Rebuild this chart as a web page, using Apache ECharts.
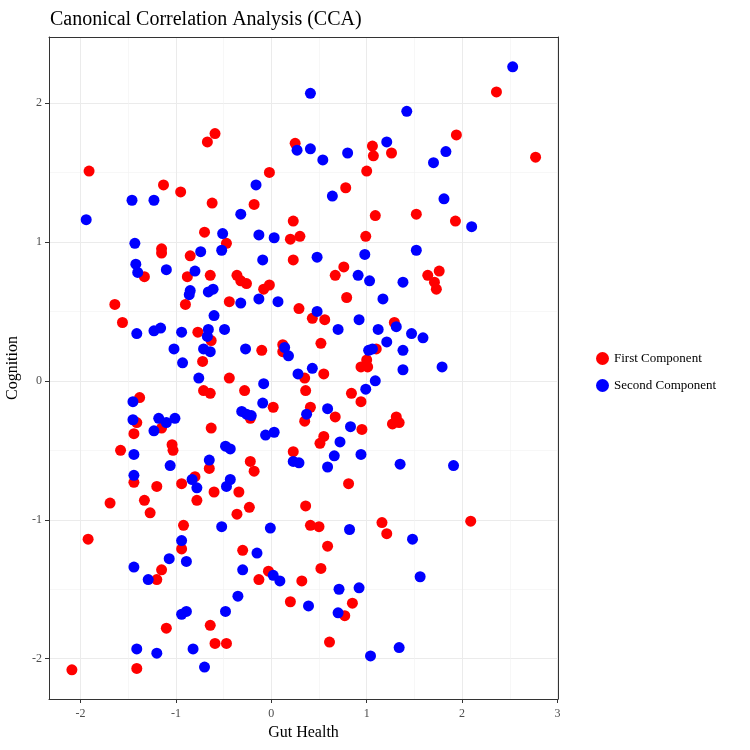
<!DOCTYPE html>
<html>
<head>
<meta charset="utf-8">
<title>CCA</title>
<script src="https://cdn.jsdelivr.net/npm/echarts@6/dist/echarts.min.js"></script>
<style>
  html, body { margin: 0; padding: 0; background: #fff; }
  #cca { width: 750px; height: 750px; }
</style>
</head>
<body>
<div id="cca"></div>
<script>
// values: [gut health, cognition]
var firstComponent = [
	[-0.59, 1.78], [-0.67, 1.72], [0.25, 1.71], [-1.91, 1.51], [-0.02, 1.50], [-1.13, 1.41],
	[-0.95, 1.36], [-0.62, 1.28], [-0.18, 1.27], [0.23, 1.15], [-0.70, 1.07], [0.20, 1.02],
	[0.30, 1.04], [-0.47, 0.99], [-1.15, 0.95], [-1.15, 0.92], [-0.85, 0.90], [0.23, 0.87],
	[2.36, 2.08], [1.94, 1.77], [1.06, 1.69], [1.07, 1.62], [1.26, 1.64], [2.77, 1.61],
	[1.00, 1.51], [0.78, 1.39], [1.09, 1.19], [1.52, 1.20], [1.93, 1.15], [0.99, 1.04],
	[-1.33, 0.75], [-0.88, 0.75], [-0.64, 0.76], [-0.36, 0.76], [-0.32, 0.72], [-0.26, 0.70],
	[-0.08, 0.66], [-0.02, 0.69], [-1.64, 0.55], [-0.90, 0.55], [-0.44, 0.57], [0.29, 0.52],
	[-1.56, 0.42], [-0.77, 0.35], [-0.63, 0.29], [-0.72, 0.14], [-0.10, 0.22], [0.12, 0.26],
	[0.12, 0.21], [-0.44, 0.02], [-0.71, -0.07], [-0.64, -0.09], [-0.28, -0.07], [-1.38, -0.12],
	[0.02, -0.19], [-0.22, -0.27], [-1.41, -0.30], [-1.15, -0.34], [-1.44, -0.38], [-0.63, -0.34],
	[-1.58, -0.50], [-1.04, -0.46], [-1.03, -0.50], [-0.65, -0.63], [-0.22, -0.58], [-0.18, -0.65],
	[0.23, -0.51],
	[0.76, 0.82], [0.67, 0.76], [1.64, 0.76], [1.76, 0.79], [1.71, 0.71], [1.73, 0.66],
	[0.79, 0.60], [0.43, 0.45], [0.56, 0.44], [1.29, 0.42], [0.52, 0.27], [1.10, 0.23],
	[1.00, 0.15], [0.94, 0.10], [1.01, 0.10], [0.35, 0.02], [0.55, 0.05], [0.36, -0.07],
	[0.84, -0.09], [0.94, -0.15], [0.41, -0.19], [0.35, -0.29], [0.67, -0.26], [0.95, -0.35],
	[1.31, -0.26], [1.27, -0.31], [1.34, -0.30], [0.55, -0.40], [0.51, -0.45],
	[-1.44, -0.73], [-1.20, -0.76], [-0.94, -0.74], [-0.80, -0.69], [-0.60, -0.80], [-0.34, -0.80],
	[-1.69, -0.88], [-1.33, -0.86], [-0.78, -0.86], [-1.27, -0.95], [-0.36, -0.96], [-0.23, -0.91],
	[0.36, -0.90], [-0.92, -1.04], [-1.92, -1.14], [-0.94, -1.21], [-0.30, -1.22], [-1.15, -1.36],
	[-1.20, -1.43], [-0.03, -1.37], [-0.13, -1.43], [0.32, -1.44], [0.20, -1.59], [-1.10, -1.78],
	[-0.64, -1.76], [-0.59, -1.89], [-0.47, -1.89], [-2.09, -2.08], [-1.41, -2.07],
	[0.81, -0.74], [0.41, -1.04], [0.50, -1.05], [1.16, -1.02], [1.21, -1.10], [2.09, -1.01],
	[0.59, -1.19], [0.52, -1.35], [0.85, -1.60], [0.77, -1.69], [0.61, -1.88]
];

var secondComponent = [
	[0.41, 2.07], [2.53, 2.26], [1.42, 1.94], [0.27, 1.66], [0.41, 1.67], [0.54, 1.59],
	[0.80, 1.64], [1.21, 1.72], [1.70, 1.57], [1.83, 1.65], [-0.16, 1.41], [-1.46, 1.30],
	[-1.23, 1.30], [-0.32, 1.20], [-1.94, 1.16], [-0.51, 1.06], [-0.13, 1.05], [0.03, 1.03],
	[-1.43, 0.99], [-0.74, 0.93], [-0.52, 0.94], [-0.09, 0.87], [0.64, 1.33], [1.81, 1.31],
	[2.10, 1.11], [0.48, 0.89], [0.98, 0.91], [1.52, 0.94],
	[-1.42, 0.84], [-1.40, 0.78], [-1.10, 0.80], [-0.80, 0.79], [-0.85, 0.65], [-0.86, 0.62],
	[-0.66, 0.64], [-0.61, 0.66], [-0.32, 0.56], [-0.13, 0.59], [0.07, 0.57], [-0.60, 0.47],
	[-1.41, 0.34], [-1.23, 0.36], [-1.16, 0.38], [-0.94, 0.35], [-0.66, 0.37], [-0.67, 0.32],
	[-0.49, 0.37], [-1.02, 0.23], [-0.71, 0.23], [-0.64, 0.21], [-0.93, 0.13], [-0.27, 0.23],
	[0.14, 0.24], [0.18, 0.18], [-0.76, 0.02], [0.28, 0.05], [-0.08, -0.02], [-1.45, -0.15],
	[-0.09, -0.16], [-0.31, -0.22], [-0.26, -0.24], [-0.21, -0.25], [-1.45, -0.28], [-1.18, -0.27],
	[-1.10, -0.30], [-1.01, -0.27], [-1.23, -0.36], [-0.06, -0.39], [0.03, -0.37], [-1.44, -0.53],
	[-0.48, -0.47], [-0.43, -0.49], [-0.65, -0.57], [-1.06, -0.61], [0.23, -0.58], [0.29, -0.59],
	[-1.44, -0.68],
	[0.91, 0.76], [1.03, 0.72], [1.38, 0.71], [1.17, 0.59], [0.48, 0.50], [0.70, 0.37],
	[0.92, 0.44], [1.12, 0.37], [1.31, 0.39], [1.47, 0.34], [1.59, 0.31], [1.21, 0.28],
	[1.38, 0.22], [1.02, 0.22], [1.06, 0.23], [1.38, 0.08], [1.79, 0.10], [0.43, 0.09],
	[1.09, 0.00], [0.99, -0.06], [0.37, -0.24], [0.59, -0.20], [0.83, -0.33], [0.72, -0.44],
	[0.66, -0.54], [0.94, -0.53], [0.59, -0.62], [1.35, -0.60], [1.91, -0.61],
	[-0.83, -0.71], [-0.78, -0.77], [-0.47, -0.76], [-0.43, -0.71], [-0.52, -1.05], [-0.01, -1.06],
	[-0.94, -1.15], [-0.15, -1.24], [-1.07, -1.28], [-0.89, -1.30], [-1.44, -1.34], [-1.29, -1.43],
	[-0.30, -1.36], [0.02, -1.40], [0.09, -1.44], [-0.35, -1.55], [-0.94, -1.68], [-0.89, -1.66],
	[-0.48, -1.66], [-1.41, -1.93], [-1.20, -1.96], [-0.82, -1.93], [-0.70, -2.06],
	[0.82, -1.07], [1.48, -1.14], [1.56, -1.41], [0.71, -1.50], [0.92, -1.49], [0.39, -1.62],
	[0.70, -1.67], [1.34, -1.92], [1.04, -1.98]
];

var xTicks = [-2, -1, 0, 1, 2, 3];
var xMinor = [-1.5, -0.5, 0.5, 1.5, 2.5];
var yTicks = [-2, -1, 0, 1, 2];
var yMinor = [-1.5, -0.5, 0.5, 1.5];
var seriesNames = ['First Component', 'Second Component'];

var serif = 'Liberation Serif';
var chart = echarts.init(document.getElementById('cca'));

function mainAxis(min, max, ticks, name, pos, gap) {
	return {
		type: 'value',
		position: pos,
		min: min,
		max: max,
		name: name,
		nameLocation: 'middle',
		nameGap: gap,
		nameTextStyle: { fontFamily: serif, fontSize: 16, color: '#000' },
		axisLine: { show: true, onZero: false, lineStyle: { color: '#333', width: 1 } },
		axisTick: { show: true, length: 4, customValues: ticks, lineStyle: { color: '#333' } },
		axisLabel: {
			customValues: ticks,
			fontFamily: serif,
			fontSize: 12,
			color: '#4d4d4d',
			margin: 7
		},
		splitLine: { show: true, lineStyle: { color: '#ebebeb', width: 1 } }
	};
}

// second axis on the opposite side: closes the panel border and carries the minor grid
function minorAxis(min, max, ticks, pos) {
	return {
		type: 'value',
		position: pos,
		min: min,
		max: max,
		axisLine: { show: true, onZero: false, lineStyle: { color: '#333', width: 1 } },
		axisTick: { show: false, customValues: ticks },
		axisLabel: { show: false, customValues: ticks },
		splitLine: { show: true, lineStyle: { color: '#f2f2f2', width: 0.6 } }
	};
}

var xMain = mainAxis(-2.33, 3.005, xTicks, 'Gut Health', 'bottom', 26);
xMain.axisLabel.margin = 9;
var yMain = mainAxis(-2.29, 2.475, yTicks, 'Cognition', 'left', 25);

var option = {
	animation: false,
	backgroundColor: '#fff',
	title: {
		text: 'Canonical Correlation Analysis (CCA)',
		left: 45,
		top: 5,
		textStyle: { fontFamily: serif, fontSize: 20, fontWeight: 'normal', color: '#000' }
	},
	legend: {
		orient: 'vertical',
		left: 591,
		top: 347,
		icon: 'circle',
		itemWidth: 13,
		itemHeight: 13,
		itemGap: 14,
		data: seriesNames,
		textStyle: { fontFamily: serif, fontSize: 13, color: '#000' }
	},
	grid: { left: 49, right: 192, top: 37, bottom: 51, containLabel: false, outerBoundsMode: 'none' },
	xAxis: [minorAxis(-2.33, 3.005, xMinor, 'top'), xMain],
	yAxis: [minorAxis(-2.29, 2.475, yMinor, 'right'), yMain],
	series: [{
		name: seriesNames[0],
		type: 'scatter',
		xAxisIndex: 1,
		yAxisIndex: 1,
		symbolSize: 11,
		itemStyle: { color: '#ff0000', opacity: 1 },
		data: firstComponent
	}, {
		name: seriesNames[1],
		type: 'scatter',
		xAxisIndex: 1,
		yAxisIndex: 1,
		symbolSize: 11,
		itemStyle: { color: '#0000ff', opacity: 1 },
		data: secondComponent
	}]
};
chart.setOption(option);
</script>
</body>
</html>
